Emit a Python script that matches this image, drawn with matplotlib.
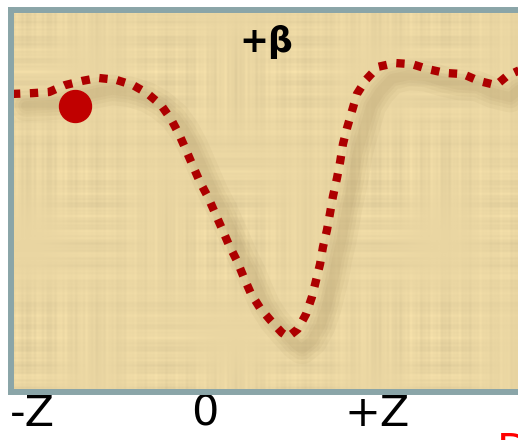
import numpy as np
import matplotlib
matplotlib.use("Agg")
import matplotlib.pyplot as plt
from matplotlib import transforms

# potential curve across the gap (position in units of Z, height 0..1)
z = [-1.119, -1.003, -0.904, -0.812, -0.713, -0.620, -0.516, -0.417, -0.336,
     -0.255, -0.197, -0.151, -0.110, -0.070, -0.029, 0.017, 0.058, 0.099,
     0.139, 0.186, 0.226, 0.267, 0.319, 0.377, 0.446, 0.481, 0.539, 0.586,
     0.620, 0.643, 0.667, 0.684, 0.707, 0.725, 0.742, 0.765, 0.783, 0.800,
     0.823, 0.852, 0.881, 0.933, 1.003, 1.101, 1.200, 1.293, 1.391, 1.496,
     1.588, 1.687, 1.751, 1.826]
V = [0.780, 0.782, 0.785, 0.803, 0.814, 0.822, 0.817, 0.803, 0.782,
     0.751, 0.714, 0.675, 0.633, 0.591, 0.549, 0.510, 0.468, 0.426,
     0.384, 0.342, 0.298, 0.256, 0.219, 0.188, 0.154, 0.143, 0.164, 0.203,
     0.248, 0.290, 0.334, 0.379, 0.423, 0.468, 0.512, 0.559, 0.601, 0.649,
     0.690, 0.735, 0.780, 0.817, 0.851, 0.861, 0.858, 0.845, 0.835, 0.832,
     0.814, 0.803, 0.827, 0.843]

# particle position
ball_z = [-0.754]
ball_V = [0.748]

tick_pos = [-1, 0, 1]
tick_labels = ["-Z", "0", "+Z"]

fig = plt.figure(figsize=(5.18, 4.40), dpi=100)
fig.patch.set_facecolor("white")
ax = fig.add_axes([11 / 518, 48.5 / 440, 529 / 518, 381.5 / 440])

# papyrus-like fibre texture
H, W = 380, 530
yy, xx = np.mgrid[0:H, 0:W]
fy = (np.sin(yy * 0.31 + 1.3) + 0.7 * np.sin(yy * 0.83 + 0.4)
      + 0.5 * np.sin(yy * 1.71 + 2.2) + 0.4 * np.sin(yy * 0.12 + 0.9))
fx = (np.sin(xx * 0.27 + 0.5) + 0.7 * np.sin(xx * 0.91 + 1.9)
      + 0.5 * np.sin(xx * 1.53 + 0.2) + 0.4 * np.sin(xx * 0.09 + 2.7))
mx = 0.5 + 0.5 * np.sin(xx * 0.045 + 1.0) * np.sin(yy * 0.021 + 0.3)
my = 0.5 + 0.5 * np.sin(yy * 0.038 + 2.0) * np.sin(xx * 0.017 + 1.1)
shade = 0.018 * fy * mx + 0.018 * fx * my
base = np.array([234, 214, 162]) / 255.0
tex = np.clip(base[None, None, :] * (1 + shade[..., None]), 0, 1)
ax.imshow(tex, extent=(0, 1, 0, 1), transform=ax.transAxes,
          aspect="auto", zorder=0, interpolation="bilinear")

# soft drop shadow under the curve, pushed down and to the right
shadow = transforms.offset_copy(ax.transData, fig=fig, x=14, y=-12, units="dots")
for lw in [22, 16, 11, 7]:
    ax.plot(z, V, color="#6b5426", lw=lw, alpha=0.045, transform=shadow,
            solid_capstyle="round", solid_joinstyle="round", zorder=1)

ax.plot(z, V, color="#ad0000", lw=6.0, linestyle=(0, (1.0, 1.15)),
        dash_capstyle="butt", zorder=2)
ax.plot(ball_z, ball_V, "o", color="#c00000", markersize=23, zorder=3)

ax.text(0.355, 0.915, "+\u03b2", fontsize=25, fontweight="bold",
        ha="center", va="center", color="black")

ax.set_xlim((11 - 205) / 172.5, (540 - 205) / 172.5)
ax.set_ylim(0, 1)
ax.set_xticks(tick_pos)
ax.set_xticklabels(tick_labels, fontsize=31)
ax.tick_params(axis="x", length=0, pad=1)
ax.set_yticks([])
for side in ["left", "top", "bottom", "right"]:
    ax.spines[side].set_color("#8aa5a8")
    ax.spines[side].set_linewidth(4.3)

# letter peeking in at the bottom-right corner
fig.text(497 / 518, 1 - 431 / 440, "D", color="#ff0000", fontsize=30,
         ha="left", va="top")

fig.savefig("out.png", dpi=100)
